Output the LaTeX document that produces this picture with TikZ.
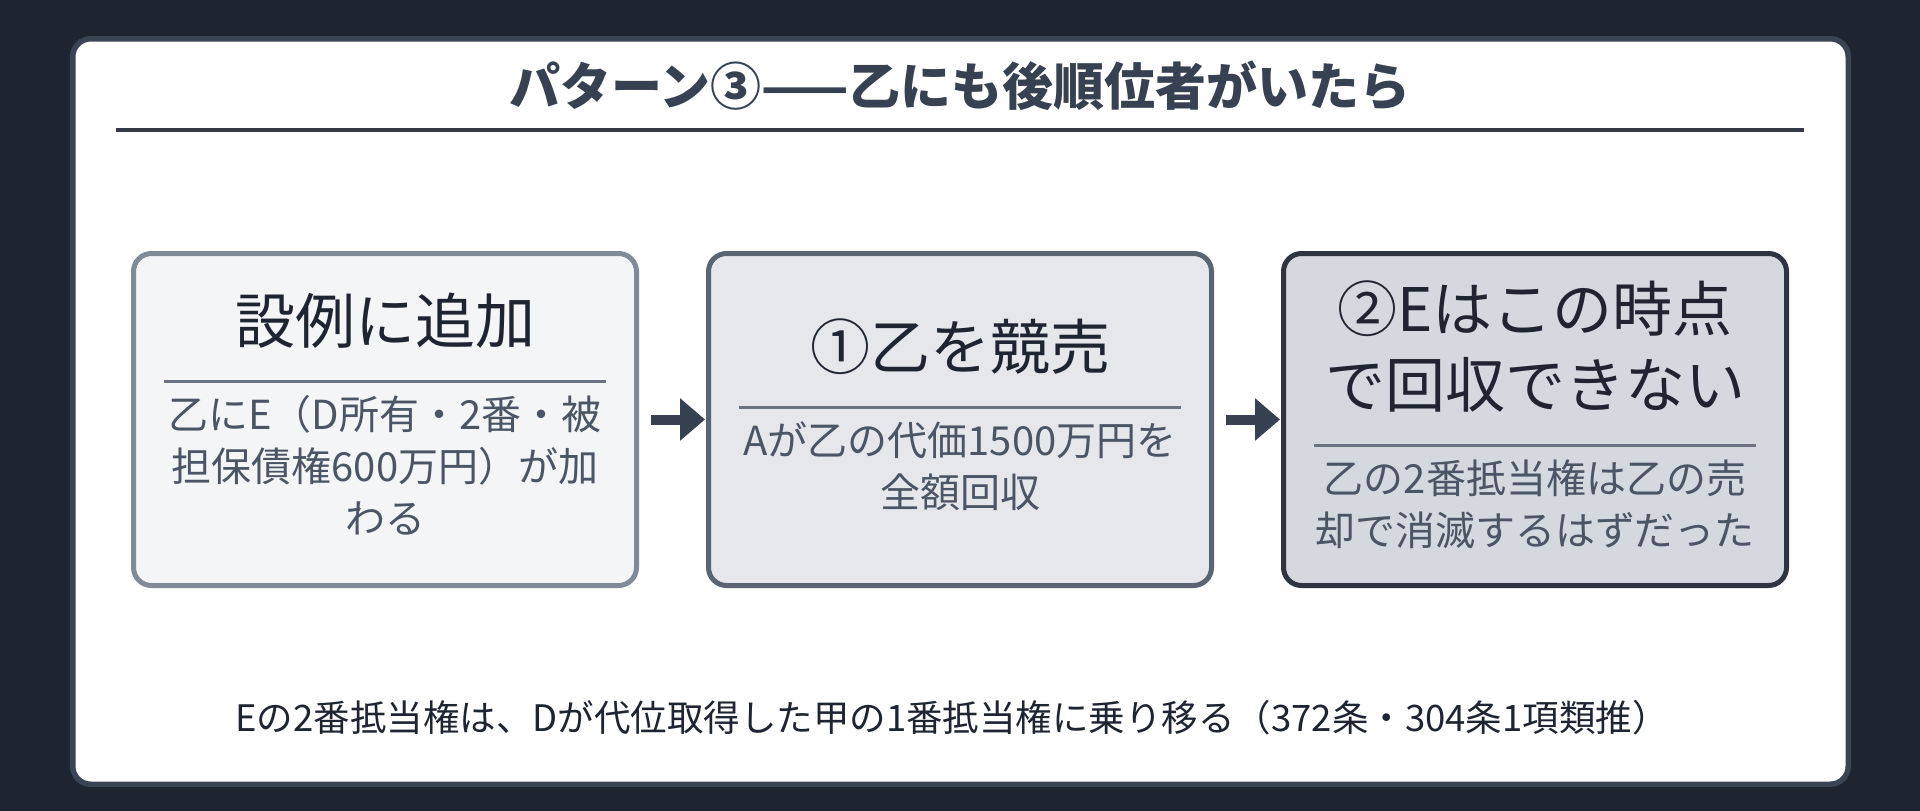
\documentclass[tikz,border=0pt]{standalone}
\usepackage{fontspec}
\setmainfont{Noto Sans CJK JP}
\usepackage{xcolor}
\usetikzlibrary{positioning,arrows.meta}

\definecolor{bgdark}{HTML}{1E2430}
\definecolor{cardline}{HTML}{3B4454}
\definecolor{titlecol}{HTML}{374151}
\definecolor{headcol}{HTML}{1F2530}
\definecolor{bodycol}{HTML}{4B5563}
\definecolor{rulecol}{HTML}{6B7280}
\definecolor{arrowcol}{HTML}{374151}
\definecolor{fillA}{HTML}{F4F5F7}
\definecolor{lineA}{HTML}{808A98}
\definecolor{fillB}{HTML}{E5E7EB}
\definecolor{lineB}{HTML}{5B6472}
\definecolor{fillC}{HTML}{D4D8DF}
\definecolor{lineC}{HTML}{2E3540}

% head, rule and body inside one step box
\newcommand{\stepcontent}[2]{%
  \parindent=0pt\parskip=0pt
  {\fontsize{60}{76}\selectfont\color{headcol}\strut#1\strut\par}%
  \nointerlineskip\vspace{13.5pt}%
  \hbox to\hsize{\hss\textcolor{rulecol}{\rule{442pt}{3pt}}\hss}%
  \nointerlineskip\vspace{10pt}%
  {\fontsize{40}{52}\selectfont\color{bodycol}\strut#2\strut\par}%
  \vspace{-18pt}}

\tikzset{
  stepbox/.style={rectangle, rounded corners=18pt, line width=5pt,
    minimum width=503pt, minimum height=332pt, text width=470pt,
    align=center, inner sep=0pt},
  flowarrow/.style={draw=arrowcol, line width=10pt,
    -{Triangle[length=25pt,width=41pt]}, shorten <=12pt, shorten >=1pt}
}

\begin{document}
\begin{tikzpicture}[x=1pt,y=-1pt]
    \useasboundingbox (0,0) rectangle (1920,811);
    \fill[bgdark] (0,0) rectangle (1920,811);

    % Card and heading
    \draw[cardline, fill=white, line width=5.5pt, rounded corners=18pt] (72.75,38.75) rectangle (1848.25,784.25);
    \node[anchor=base, font=\fontsize{51}{60}\selectfont\bfseries, text=titlecol] (title) at (960,105) {パターン③——乙にも後順位者がいたら};
    \draw[headcol!90!white, line width=3.5pt] (116,130) -- (1804,130);

    % Three steps
    \node[stepbox, fill=fillA, draw=lineA] (add) at (385,419.5) {\stepcontent{設例に追加}{乙にE（D所有・2番・被\\担保債権600万円）が加\\わる}};
    \node[stepbox, fill=fillB, draw=lineB, right=67pt of add] (sale) {\stepcontent{①乙を競売}{Aが乙の代価1500万円を\\全額回収}};
    \node[stepbox, fill=fillC, draw=lineC, right=67pt of sale] (loss) {\stepcontent{②Eはこの時点\\で回収できない}{乙の2番抵当権は乙の売\\却で消滅するはずだった}};

    \foreach \from/\to in {add/sale,sale/loss}
        \draw[flowarrow] (\from) -- (\to);

    % Note at the bottom
    \node[anchor=base, font=\fontsize{36.5}{44}\selectfont, text=headcol] (note) at (952,731) {Eの2番抵当権は、Dが代位取得した甲の1番抵当権に乗り移る（372条・304条1項類推）};
\end{tikzpicture}
\end{document}
